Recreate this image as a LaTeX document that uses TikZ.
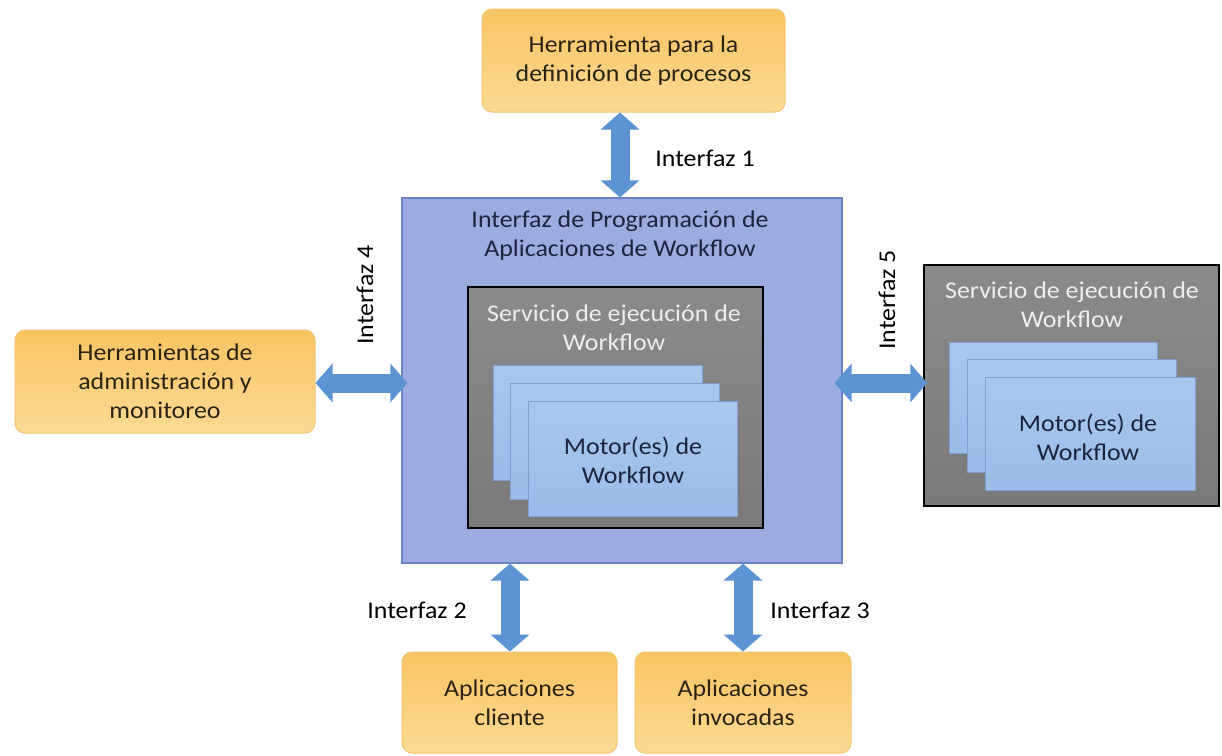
\documentclass[tikz,border=0pt]{standalone}
\usepackage{fontspec}
\setmainfont{Carlito}[FakeStretch=1.08]
\usetikzlibrary{arrows.meta,calc}
\definecolor{orfillA}{HTML}{F8C462}
\definecolor{orfillB}{HTML}{FCDA94}
\definecolor{ordraw}{HTML}{EFC673}
\definecolor{apifill}{HTML}{9CACE0}
\definecolor{apidraw}{HTML}{6A82C8}
\definecolor{grayA}{HTML}{8A8A8A}
\definecolor{grayB}{HTML}{7A7A7A}
\definecolor{motA}{HTML}{A9C6EE}
\definecolor{motB}{HTML}{9BBCE8}
\definecolor{motdraw}{HTML}{7D9FD2}
\definecolor{arrowblue}{HTML}{5B93D3}
\definecolor{txtdark}{HTML}{2A2414}
\definecolor{txtblue}{HTML}{1C2440}
\definecolor{txtwhite}{HTML}{EEEEEE}
\tikzset{
  x=1pt, y=-1pt,
  txt/.style={font=\fontsize{24}{29}\selectfont, align=center, inner sep=0pt},
  orbox/.style={draw=ordraw, line width=1pt, rounded corners=10pt, top color=orfillA, bottom color=orfillB, text=txtdark},
  apibox/.style={draw=apidraw, line width=1.2pt, fill=apifill},
  graybox/.style={draw=black, line width=1.5pt, top color=grayA, bottom color=grayB},
  motbox/.style={draw=motdraw, line width=0.8pt, top color=motA, bottom color=motB},
  bigarrow/.style={draw=arrowblue, line width=19pt,
    {Triangle[width=38pt,length=17pt]}-{Triangle[width=38pt,length=17pt]}},
  lbl/.style={txt, text=black},
}
\newcommand{\boxat}[6]{\node[#1, minimum width=#4-#2, minimum height=#5-#3, inner sep=0pt] (#6) at ({(#2+#4)/2},{(#3+#5)/2}) {};}
\begin{document}
\begin{tikzpicture}
\useasboundingbox (0,0) rectangle (1222,755);
\fill[white] (0,0) rectangle (1222,755);
% orange boxes
\boxat{orbox}{482}{9}{785}{112}{def}
\node[txt, text=txtdark] at (def) {Herramienta para la\\definición de procesos};
\boxat{orbox}{15}{330}{315}{433}{adm}
\node[txt, text=txtdark] at (adm) {Herramientas de\\administración y\\monitoreo};
\boxat{orbox}{402}{652}{617}{753}{cli}
\node[txt, text=txtdark] at (cli) {Aplicaciones\\cliente};
\boxat{orbox}{635}{652}{851}{753}{inv}
\node[txt, text=txtdark] at (inv) {Aplicaciones\\invocadas};
% API box
\boxat{apibox}{402}{198}{842}{563}{api}
\node[txt, text=txtblue] (apit) at (620,236) {Interfaz de Programación de\\Aplicaciones de Workflow};
% inner service
\boxat{graybox}{468}{287}{763}{528}{srv}
\node[txt, text=txtwhite] (srvt) at (614,328) {Servicio de ejecución de\\Workflow};
\boxat{motbox}{493}{365}{702}{480}{m1}
\boxat{motbox}{510}{383}{719}{499}{m2}
\boxat{motbox}{528}{401}{737}{516}{m3}
\node[txt, text=txtblue] at (633,460) {Motor(es) de\\Workflow};
% external service
\boxat{graybox}{924}{265}{1219}{506}{srvx}
\node[txt, text=txtwhite] (srvxt) at (1072,305) {Servicio de ejecución de\\Workflow};
\boxat{motbox}{949}{342}{1157}{453}{n1}
\boxat{motbox}{967}{359}{1176}{472}{n2}
\boxat{motbox}{985}{377}{1195}{490}{n3}
\node[txt, text=txtblue] at (1088,437) {Motor(es) de\\Workflow};
% arrows
\coordinate (a1) at (620,150);
\draw[bigarrow] (a1 |- def.south) -- (a1 |- api.north);
\coordinate (a4) at (360,383);
\draw[bigarrow, shorten >=-6pt] (adm.east |- a4) -- (api.west |- a4);
\coordinate (a2) at (510,600);
\draw[bigarrow] (a2 |- api.south) -- (a2 |- cli.north);
\coordinate (a3) at (743,600);
\draw[bigarrow] (a3 |- api.south) -- (a3 |- inv.north);
\coordinate (a5) at (880,383);
\draw[bigarrow, shorten <=-8pt, shorten >=-4pt] (api.east |- a5) -- (srvx.west |- a5);
% labels
\node[lbl] at (705,158) {Interfaz 1};
\node[lbl] at (417,610) {Interfaz 2};
\node[lbl] at (820,610) {Interfaz 3};
\node[lbl, rotate=90] at (365,295) {Interfaz 4};
\node[lbl, rotate=90] at (887,300) {Interfaz 5};
\end{tikzpicture}
\end{document}
